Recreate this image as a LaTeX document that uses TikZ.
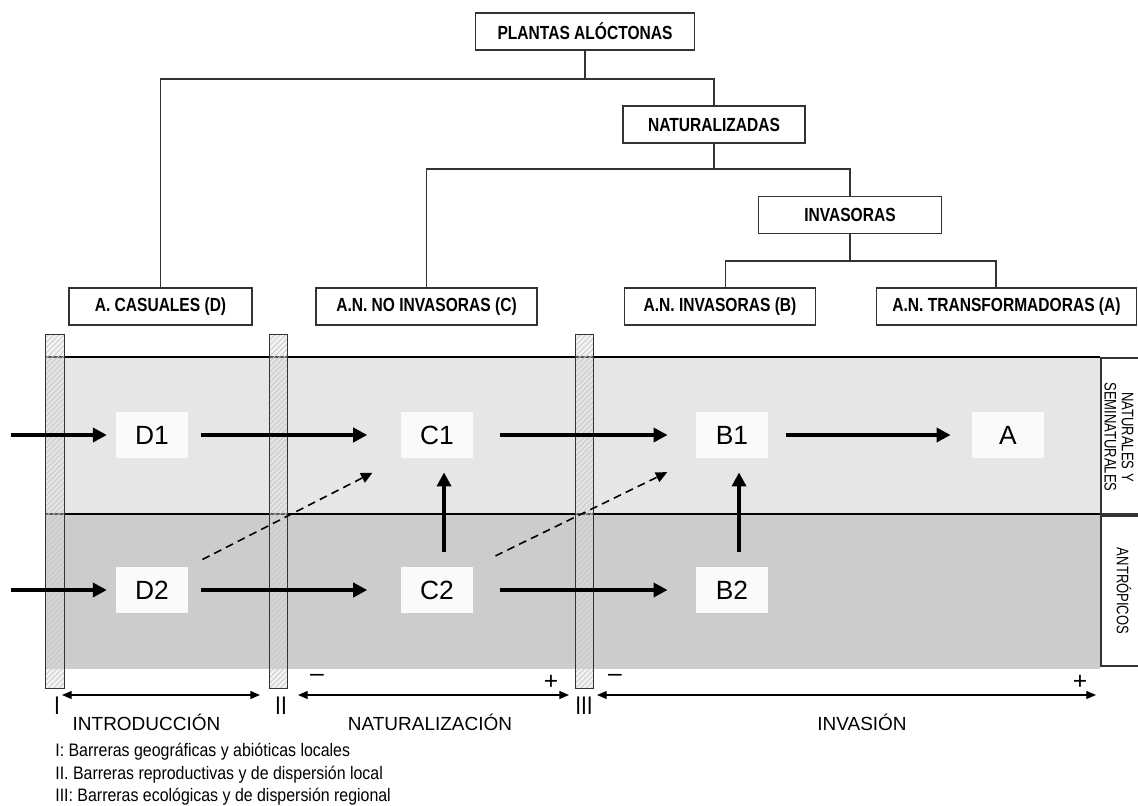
\documentclass[tikz,border=0pt]{standalone}
\usepackage{fontspec}
\setmainfont{Liberation Sans}
\newfontfamily\narrowfont[FakeStretch=0.82]{Liberation Sans}
\newfontfamily\legendfont[FakeStretch=0.88]{Liberation Sans}
\newfontfamily\sidefont[FakeStretch=0.78]{Liberation Sans}
\usetikzlibrary{arrows.meta,patterns}
\definecolor{bandtop}{HTML}{E6E6E6}
\definecolor{bandlow}{HTML}{CCCCCC}
\definecolor{cellfill}{HTML}{FAFAFA}
\definecolor{linegray}{HTML}{333333}
\tikzset{
  treebox/.style={draw=linegray, line width=0.7pt, fill=white, minimum height=0.74cm, inner sep=0pt,
    font={\narrowfont\fontsize{10.8pt}{13pt}\selectfont\bfseries}},
  treeline/.style={draw=linegray, line width=0.6pt},
  cell/.style={fill=cellfill, minimum width=1.44cm, minimum height=0.92cm, inner sep=0pt,
    font={\fontsize{15pt}{18pt}\selectfont}},
  barrier/.style={draw=linegray, line width=0.5pt, minimum width=0.37cm, minimum height=7.08cm, inner sep=0pt,
    preaction={fill=gray!25, fill opacity=0.4}, pattern=north east lines, pattern color=gray!45},
  bigarrow/.style={line width=2.4pt, -{Triangle[length=8pt,width=8pt]}},
  dasharrow/.style={line width=0.9pt, dash pattern=on 4.5pt off 3pt, -{Triangle[length=6.5pt,width=6pt]}},
  stagearrow/.style={line width=0.7pt, {Triangle[length=5.5pt,width=4.5pt]}-{Triangle[length=5.5pt,width=4.5pt]}},
  stagetext/.style={font={\fontsize{10.8pt}{13pt}\selectfont}},
  signtext/.style={inner sep=0pt, font={\fontsize{14pt}{16pt}\selectfont}},
  roman/.style={inner sep=0pt, font={\narrowfont\fontsize{14.5pt}{16pt}\selectfont}},
  legend/.style={anchor=west, inner sep=0pt, font={\legendfont\fontsize{10.3pt}{12pt}\selectfont}},
  sidetext/.style={rotate=-90, align=center, inner sep=0pt, font={\sidefont\fontsize{9.5pt}{9.8pt}\selectfont}},
}
\begin{document}
\begin{tikzpicture}[x=0.02cm, y=-0.02cm]
         \clip (0,0) rectangle (1138,805);
         \begin{scope}
             \fill[bandtop] (46,357) rectangle (1100,514);
             \fill[bandlow] (46,514) rectangle (1100,669);
             \draw[black, line width=0.6pt] (46,357) -- (1100,357);
             \draw[black, line width=0.6pt] (46,514) -- (1100,514);
             \draw[linegray, line width=0.8pt] (1101,358) rectangle (1160,514);
             \draw[linegray, line width=0.8pt] (1101,516) rectangle (1160,666);
             \node[sidetext] (natlbl) at (1119,437) {NATURALES Y\\SEMINATURALES};
             \node[sidetext] (antlbl) at (1124,591) {ANTRÓPICOS};

             \node[barrier] (bI) at (55,511) {};
             \node[barrier] (bII) at (278.5,511) {};
             \node[barrier] (bIII) at (584.5,511) {};
         \end{scope}

         \node[treebox, minimum width=4.38cm] (plantas) at (585,31.5) {PLANTAS ALÓCTONAS};
         \node[treebox, minimum width=3.64cm] (natur) at (714,124.5) {NATURALIZADAS};
         \node[treebox, minimum width=3.66cm] (invas) at (850,215) {INVASORAS};
         \node[treebox, minimum width=3.66cm] (casual) at (160.5,306.5) {A. CASUALES (D)};
         \node[treebox, minimum width=4.42cm] (noinv) at (426.5,306.5) {A.N. NO INVASORAS (C)};
         \node[treebox, minimum width=3.82cm] (anb) at (720,306.5) {A.N. INVASORAS (B)};
         \node[treebox, minimum width=5.2cm] (ana) at (1006.5,306.5) {A.N. TRANSFORMADORAS (A)};

         \coordinate (j1) at (plantas.south |- 0,79);
         \coordinate (j2) at (natur.south |- 0,169);
         \coordinate (j3) at (invas.south |- 0,261);
         \draw[treeline] (plantas) -- (j1);
         \draw[treeline] (casual) |- (j1) -| (natur);
         \draw[treeline] (natur) -- (j2);
         \draw[treeline] (noinv) |- (j2) -| (invas);
         \draw[treeline] (invas) -- (j3);
         \draw[treeline] ([xshift=3pt]anb.north) |- (j3) -| ([xshift=-6pt]ana.north);

         \node[cell] (D1) at (152,435) {D1};
         \node[cell] (C1) at (437,435) {C1};
         \node[cell] (B1) at (732,435) {B1};
         \node[cell] (A) at (1008,435) {A};
         \node[cell] (D2) at (152,590) {D2};
         \node[cell] (C2) at (437,590) {C2};
         \node[cell] (B2) at (732,590) {B2};

         \coordinate (in1) at (11,435);
         \coordinate (in2) at (11,590);
         \draw[bigarrow, shorten >=5pt] (in1) -- (D1);
         \draw[bigarrow, shorten >=5pt] (in2) -- (D2);
         \draw[bigarrow, shorten <=7pt, shorten >=19pt] (D1) -- (C1);
         \draw[bigarrow, shorten <=15pt, shorten >=16pt] (C1) -- (B1);
         \draw[bigarrow, shorten <=10pt, shorten >=12pt] (B1) -- (A);
         \draw[bigarrow, shorten <=7pt, shorten >=19pt] (D2) -- (C2);
         \draw[bigarrow, shorten <=15pt, shorten >=16pt] (C2) -- (B2);
         \draw[bigarrow, shorten <=8.5pt, shorten >=8pt] ([xshift=4pt]C2.north) -- ([xshift=4pt]C1.south);
         \draw[bigarrow, shorten <=8.5pt, shorten >=8pt] ([xshift=4pt]B2.north) -- ([xshift=4pt]B1.south);
         \draw[dasharrow, shorten <=9pt, shorten >=18pt] (D2.north east) -- (C1.south west);
         \draw[dasharrow, shorten <=14pt, shorten >=18pt] (C2.north east) -- (B1.south west);

         \coordinate (s1a) at (62,695);
         \coordinate (s1b) at (260,695);
         \coordinate (s2a) at (298,695);
         \coordinate (s2b) at (569,695);
         \coordinate (s3a) at (597,695);
         \coordinate (s3b) at (1096,695);
         \draw[stagearrow] (s1a) -- (s1b);
         \draw[stagearrow] (s2a) -- (s2b);
         \draw[stagearrow] (s3a) -- (s3b);

         \node[roman] (rI) at (57,706) {I};
         \node[roman] (rII) at (281,706) {II};
         \node[roman] (rIII) at (584,706) {III};
         \node[signtext] (min2) at (317,678) {–};
         \node[signtext] (plus2) at (551,682) {+};
         \node[signtext] (min3) at (615,678) {–};
         \node[signtext] (plus3) at (1080,682) {+};

         \node[stagetext] (intro) at (146.5,722) {INTRODUCCIÓN};
         \node[stagetext] (natz) at (430,722) {NATURALIZACIÓN};
         \node[stagetext] (invz) at (862,722) {INVASIÓN};

         \node[legend] (legI) at (55,752) {I: Barreras geográficas y abióticas locales};
         \node[legend] (legII) at (55,775) {II. Barreras reproductivas y de dispersión local};
         \node[legend] (legIII) at (55,797) {III: Barreras ecológicas y de dispersión regional};
         \end{tikzpicture}
\end{document}
